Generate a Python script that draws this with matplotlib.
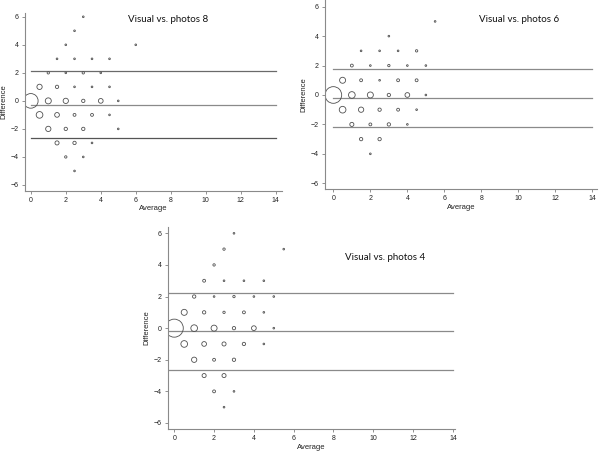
import matplotlib
matplotlib.use("Agg")
import matplotlib.pyplot as plt

plt.rcParams['font.family'] = ['Liberation Sans', 'DejaVu Sans']

# Panel 1: Visual vs. photos 8
avg_8 = [0, 0.5, 0.5, 1, 1, 1, 1.5, 1.5, 1.5, 1.5, 2, 2, 2, 2, 2, 2.5, 2.5, 2.5, 2.5, 2.5, 2.5,
         3, 3, 3, 3, 3, 3.5, 3.5, 3.5, 3.5, 4, 4, 4.5, 4.5, 4.5, 5, 5, 6]
diff_8 = [0, 1, -1, 0, 2, -2, 3, 1, -1, -3, 4, 2, 0, -2, -4, 5, 3, 1, -1, -3, -5,
          6, 2, 0, -2, -4, 3, 1, -1, -3, 2, 0, 3, 1, -1, 0, -2, 4]
freq_8 = [77, 10, 16, 13, 2, 10, 1, 4, 8, 6, 1, 1, 10, 4, 2, 1, 1, 1, 3, 4, 1,
          1, 2, 4, 4, 1, 1, 1, 3, 1, 1, 8, 1, 1, 1, 1, 1, 1]
limits_8 = [2.1, -0.3, -2.65]

# Panel 2: Visual vs. photos 6
avg_6 = [0, 0.5, 0.5, 1, 1, 1, 1.5, 1.5, 1.5, 1.5, 2, 2, 2, 2, 2.5, 2.5, 2.5, 2.5,
         3, 3, 3, 3, 3.5, 3.5, 3.5, 4, 4, 4, 4.5, 4.5, 4.5, 5, 5, 5.5]
diff_6 = [0, 1, -1, 2, 0, -2, 3, 1, -1, -3, 2, 0, -2, -4, 3, 1, -1, -3,
          4, 2, 0, -2, 3, 1, -1, 2, 0, -2, 3, 1, -1, 2, 0, 5]
freq_6 = [100, 13, 16, 3, 16, 6, 1, 3, 10, 4, 1, 13, 3, 1, 1, 1, 4, 4,
          1, 2, 4, 4, 1, 3, 3, 1, 8, 1, 2, 3, 1, 1, 1, 1]
limits_6 = [1.75, -0.23, -2.17]

# Panel 3: Visual vs. photos 4
avg_4 = [0, 0.5, 0.5, 1, 1, 1, 1.5, 1.5, 1.5, 1.5, 2, 2, 2, 2, 2, 2.5, 2.5, 2.5, 2.5, 2.5, 2.5,
         3, 3, 3, 3, 3, 3.5, 3.5, 3.5, 4, 4, 4.5, 4.5, 4.5, 5, 5, 5.5]
diff_4 = [0, 1, -1, 2, 0, -2, 3, 1, -1, -3, 4, 2, 0, -2, -4, 5, 3, 1, -1, -3, -5,
          6, 2, 0, -2, -4, 3, 1, -1, 2, 0, 3, 1, -1, 2, 0, 5]
freq_4 = [117, 13, 16, 4, 16, 10, 3, 4, 8, 6, 2, 1, 13, 3, 3, 2, 1, 2, 6, 6, 1,
          1, 2, 4, 4, 1, 1, 3, 4, 1, 8, 1, 1, 1, 1, 1, 1]
limits_4 = [2.2, -0.2, -2.67]

xticks = [0, 2, 4, 6, 8, 10, 12, 14]
yticks = [-6, -4, -2, 0, 2, 4, 6]


def bland_altman(ax, avg, diff, freq, limits, title, title_xy, xlim, ylim, line_x0=0, line_colors=None):
    if line_colors is None:
        line_colors = ['#8a8a8a'] * 3
    for lim, c in zip(limits, line_colors):
        ax.plot([line_x0, 14], [lim, lim], color=c, lw=0.9, zorder=1)
    ax.scatter(avg, diff, s=[1.44 * f for f in freq], facecolors='none',
               edgecolors='#505050', linewidths=0.6, zorder=2)
    ax.set_xlim(*xlim)
    ax.set_ylim(*ylim)
    ax.set_xticks(xticks)
    ax.set_yticks(yticks)
    ax.tick_params(labelsize=5, length=2.5, width=0.6, color='#808080', pad=2, labelcolor='#222222')
    for side in ['top', 'right']:
        ax.spines[side].set_visible(False)
    for side in ['left', 'bottom']:
        ax.spines[side].set_color('#8a8a8a')
        ax.spines[side].set_linewidth(0.8)
    ax.set_xlabel('Average', fontsize=5.5, labelpad=1, color='#222222')
    ax.set_ylabel('Difference', fontsize=5.5, labelpad=2, color='#222222')
    ax.text(title_xy[0], title_xy[1], title, ha='center', va='center', fontsize=7,
            family=['Lato', 'DejaVu Sans'], color='#111111')


fig = plt.figure(figsize=(6, 4.53), dpi=100)

ax1 = fig.add_axes([0.0417, 0.579, 0.428, 0.392])
bland_altman(ax1, avg_8, diff_8, freq_8, limits_8, 'Visual vs. photos 8', (7.87, 5.81),
             (-0.33, 14.35), (-6.41, 6.26), line_colors=['#6a6a6a', '#8a8a8a', '#555555'])

ax2 = fig.add_axes([0.5417, 0.5828, 0.453, 0.417])
bland_altman(ax2, avg_6, diff_6, freq_6, limits_6, 'Visual vs. photos 6', (10.04, 5.16),
             (-0.45, 14.24), (-6.39, 6.45))

ax3 = fig.add_axes([0.2795, 0.053, 0.479, 0.4466])
bland_altman(ax3, avg_4, diff_4, freq_4, limits_4, 'Visual vs. photos 4', (10.6, 4.5),
             (-0.33, 14.11), (-6.38, 6.42), line_x0=-0.3)

fig.savefig('out.png', dpi=100)
